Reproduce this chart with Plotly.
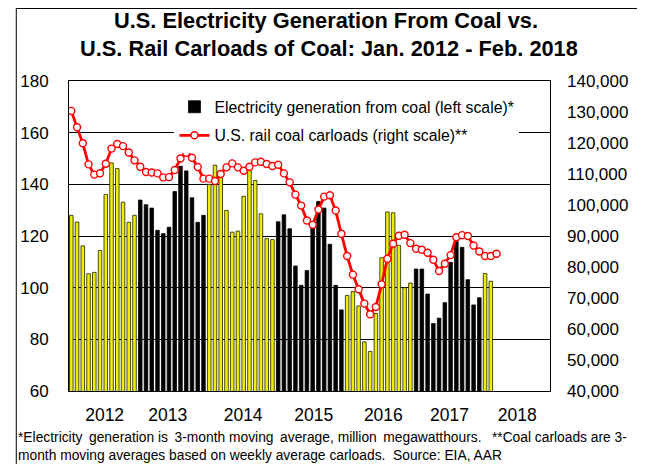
import plotly.graph_objects as go

# ---- data ----
years = ["2012", "2013", "2014", "2015", "2016", "2017", "2018"]
elec_gen = [
    128, 125.4, 116.2, 105.4, 105.9, 114.4, 136.1, 148.3, 146.1, 133.1, 125.3, 128,      # 2012
    133.9, 132.1, 130.8, 122.2, 120.9, 123.4, 137.2, 147, 145.2, 134.8, 125.3, 128,      # 2013
    140, 147.4, 145.3, 129.9, 121.5, 121.9, 135.4, 145.3, 141.5, 128.6, 119, 118.6,     # 2014
    125.5, 128.2, 122.8, 108.4, 100.9, 106.6, 123.4, 133.4, 130.8, 116.8, 100.9, 91.4,  # 2015
    97, 98.5, 92.9, 79, 75.3, 90, 111.6, 129.3, 129, 116.4, 100, 101.8,                 # 2016
    107.2, 107.2, 97.5, 86.1, 88.2, 94.2, 109.8, 118, 115.6, 103.1, 93.3, 96.1,         # 2017
    105.5, 102.5,                                                                        # 2018
]
carloads = [
    130350, 125100, 119900, 113100, 109800, 110250, 113300, 118200, 119700, 119000, 116950, 114400,  # 2012
    112350, 110650, 110500, 110200, 108900, 109000, 111300, 115000, 116850, 115250, 112250, 108500,  # 2013
    108500, 107750, 110000, 112140, 113430, 112140, 111070, 112350, 113750, 113960, 113220, 112570,  # 2014
    113000, 110200, 107310, 103350, 99810, 94990, 93600, 98530, 102710, 103140, 98210, 90710,        # 2015
    83530, 77530, 72810, 68200, 64760, 67120, 74410, 82680, 87500, 90070, 90390, 87710,              # 2016
    85890, 85570, 84600, 82350, 78690, 81070, 83840, 89620, 90270, 90000, 86950, 85000,              # 2017
    83530, 83530, 84280,                                                                              # 2018
]
year_tick_pos = [5.8, 16.8, 29.9, 42.2, 54.3, 65.8, 77.6]

# month indices
bar_x = list(range(len(elec_gen)))
line_x = list(range(len(carloads)))

black_x = [i for i in bar_x if (i // 12) % 2 == 1]
black_y = [elec_gen[i] for i in black_x]
yel_x = [i for i in bar_x if (i // 12) % 2 == 0]
yel_y = [elec_gen[i] for i in yel_x]

FONT = "Arial, Liberation Sans, sans-serif"

# page coordinates (reference pixels) -> paper coordinates
PL, PR, PT, PB = 62, 550, 81, 391
def px(x):
    return (x - PL) / (PR - PL)
def py(y):
    return (PB - y) / (PB - PT)

fig = go.Figure()
fig.add_trace(go.Bar(
    x=black_x, y=black_y, name="Electricity generation from coal (left scale)*",
    marker=dict(color="black", line=dict(color="black", width=0.8)),
    width=0.62, legendgroup="a",
))
fig.add_trace(go.Bar(
    x=yel_x, y=yel_y, name="yellow", showlegend=False,
    marker=dict(color="#EEEE00", line=dict(color="#222200", width=0.8)),
    width=0.62, legendgroup="a",
))
fig.add_trace(go.Scatter(
    x=line_x, y=carloads, yaxis="y2", mode="lines+markers",
    name="U.S. rail coal carloads (right scale)**",
    line=dict(color="#FF0000", width=2.8),
    marker=dict(symbol="circle", size=7, color="white", line=dict(color="#FF0000", width=1.4)),
    legendgroup="b",
))

note1_words = "*Electricity generation is 3-month moving average, million megawatthours.".split(" ")
note1 = ""
for k, w in enumerate(note1_words):
    sep = "" if k == 0 else (" \u2009" if k % 2 == 1 else " ")
    note1 += sep + w
note1 += " \u00a0\u2009**Coal carloads are 3-"
note2 = "month moving averages based on weekly average carloads.\u00a0 Source: EIA, AAR"

# the page has an 8px body margin, so the figure is 8px smaller than the window
fig.update_layout(
    width=637, height=456,
    margin=dict(l=PL - 8, r=637 - (PR - 8), t=PT - 8, b=456 - (PB - 8)),
    paper_bgcolor="white", plot_bgcolor="white",
    barmode="overlay",
    font=dict(family=FONT, color="black"),
    xaxis=dict(
        range=[-0.4, 83.3], showgrid=False, zeroline=False,
        tickmode="array", tickvals=year_tick_pos, ticktext=years,
        ticks="", tickfont=dict(size=17.5), ticklabelstandoff=8,
        showline=True, linecolor="black", linewidth=1, mirror=True,
    ),
    yaxis=dict(
        range=[60, 180], dtick=20, showgrid=True, gridcolor="black", gridwidth=1,
        zeroline=False, ticks="", tickfont=dict(size=17), ticklabelstandoff=16,
        showline=True, linecolor="black", linewidth=1, mirror=True,
    ),
    yaxis2=dict(
        overlaying="y", side="right", range=[40000, 140000], dtick=10000,
        tickformat=",d", showgrid=False, zeroline=False, ticks="",
        tickfont=dict(size=17), ticklabelstandoff=16, showline=False,
    ),
    legend=dict(
        x=px(169), y=py(90), xanchor="left", yanchor="top",
        bgcolor="white", borderwidth=0, font=dict(size=15.8),
        tracegroupgap=5, itemwidth=30,
    ),
    showlegend=True,
    annotations=[
        dict(
            text="<b>U.S. Electricity Generation From Coal vs.</b>",
            xref="paper", yref="paper", x=px(323), y=py(20),
            xanchor="center", yanchor="middle", showarrow=False,
            font=dict(size=21.8, family=FONT),
        ),
        dict(
            text="<b>U.S. Rail Carloads of Coal: Jan. 2012 - Feb. 2018</b>",
            xref="paper", yref="paper", x=px(326), y=py(48),
            xanchor="center", yanchor="middle", showarrow=False,
            font=dict(size=21.8, family=FONT),
        ),
        dict(
            text=note1 + "<br>" + note2,
            xref="paper", yref="paper", x=px(8.5), y=py(428),
            xanchor="left", yanchor="top", align="left", showarrow=False,
            font=dict(size=13.8, family=FONT),
        ),
    ],
    shapes=[
        dict(type="rect", xref="paper", yref="paper",
             x0=px(8.5), x1=px(680), y0=py(490), y1=py(8.5),
             line=dict(color="black", width=1), fillcolor="rgba(0,0,0,0)", layer="below"),
    ],
)

fig.write_html("out.html")
